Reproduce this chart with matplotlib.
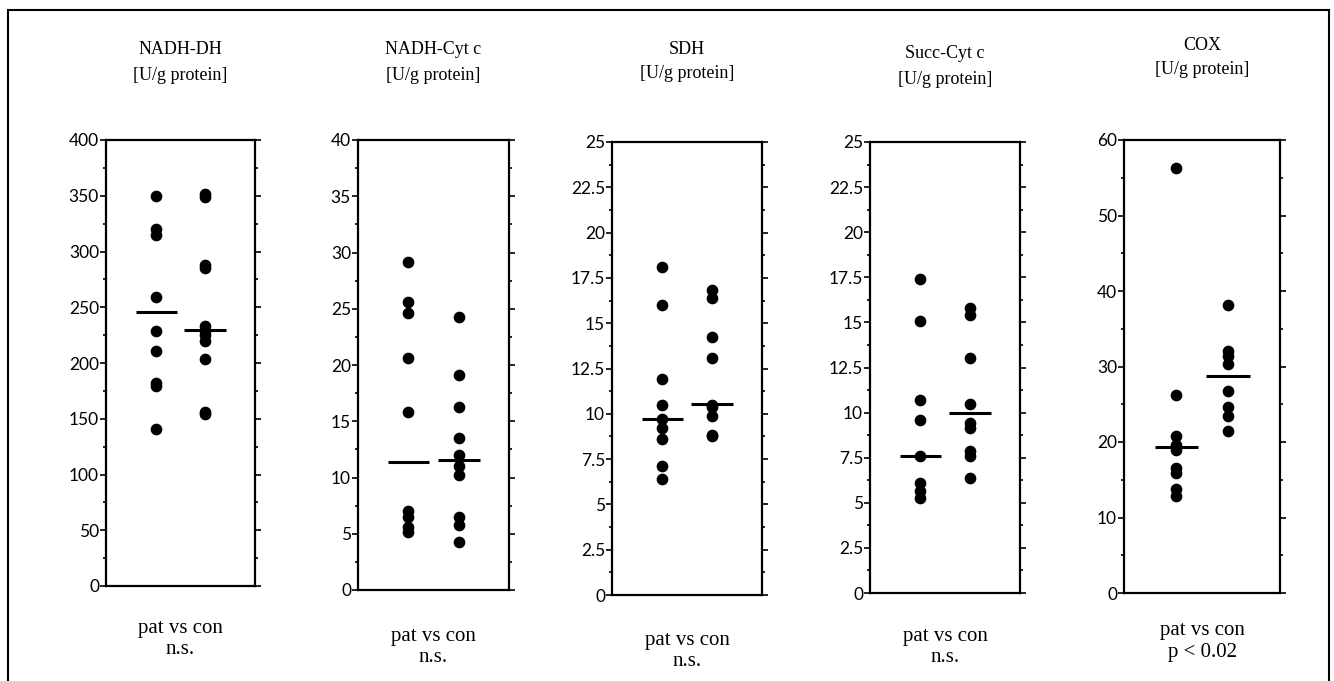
import numpy as np
import matplotlib
matplotlib.use("Agg")
import matplotlib.pyplot as plt
from matplotlib.ticker import MultipleLocator, FuncFormatter
from matplotlib.patches import Rectangle

W, H = 1334, 681

titles = ["NADH-DH", "NADH-Cyt c", "SDH", "Succ-Cyt c", "COX"]
units = ["[U/g protein]"] * 5
stats = ["n.s.", "n.s.", "n.s.", "n.s.", "p < 0.02"]
comparison = "pat vs con"

ymax = [400, 40, 25, 25, 60]
ystep = [50, 5, 2.5, 2.5, 10]

pat_nadh_dh = [350, 320, 315, 259, 229, 211, 182, 179, 141]
con_nadh_dh = [352, 349, 288, 285, 233, 229, 225, 220, 204, 156, 154]
pat_nadh_cyt = [29.2, 25.6, 24.6, 20.6, 15.8, 7.0, 6.5, 5.6, 5.2]
con_nadh_cyt = [24.3, 19.1, 16.3, 13.5, 12.0, 11.0, 10.2, 6.5, 5.8, 4.3]
pat_sdh = [18.1, 16.0, 11.9, 10.5, 9.7, 9.2, 8.6, 7.1, 6.4]
con_sdh = [16.85, 16.4, 14.25, 13.1, 10.5, 10.35, 9.9, 8.85, 8.75]
pat_succ = [17.4, 15.1, 10.7, 9.6, 7.6, 6.1, 5.65, 5.25]
con_succ = [15.8, 15.4, 13.0, 10.5, 9.45, 9.15, 7.85, 7.6, 6.4]
pat_cox = [56.3, 26.2, 20.85, 19.55, 18.9, 16.6, 15.9, 13.8, 12.9]
con_cox = [38.2, 32.1, 31.4, 30.35, 26.8, 24.6, 23.5, 21.5]

pat_median = [245.5, 11.4, 9.7, 7.6, 19.3]
con_median = [229.3, 11.55, 10.55, 10.0, 28.8]

patients = [pat_nadh_dh, pat_nadh_cyt, pat_sdh, pat_succ, pat_cox]
controls = [con_nadh_dh, con_nadh_cyt, con_sdh, con_succ, con_cox]

# axes boxes in pixels: left, right, top, bottom
boxes = [(106, 255, 140, 586), (358, 509, 140, 590), (612, 762, 142, 595),
         (870, 1020, 142, 593), (1124, 1280, 140, 593)]
title_y = [(50, 75), (49, 75), (49, 74), (54, 80), (45, 70)]
bottom_y = [(628, 650), (637, 658), (641, 662), (636, 657), (630, 652)]

serif = "Liberation Serif"
sans = "Lato"

fig = plt.figure(figsize=(W / 100, H / 100), dpi=100)
fig.patch.set_facecolor("white")

# outer frame
frame = Rectangle((8 / W, -0.05), (1329 - 8) / W, 1 - 10 / H + 0.05,
                  transform=fig.transFigure, fill=False, lw=1.5,
                  edgecolor="black")
fig.patches.append(frame)

def fmt(v, pos):
    return ("%g" % v)

for i in range(5):
    l, r, t, b = boxes[i]
    ax = fig.add_axes([l / W, 1 - b / H, (r - l) / W, (b - t) / H])
    ax.set_xlim(0, 3)
    ax.set_ylim(0, ymax[i])
    ax.plot([1] * len(patients[i]), patients[i], "o", color="black", ms=7.4,
            mec="black", clip_on=False)
    ax.plot([2] * len(controls[i]), controls[i], "o", color="black", ms=7.4,
            mec="black", clip_on=False)
    ax.plot([0.6, 1.42], [pat_median[i]] * 2, color="black", lw=2.2,
            solid_capstyle="butt")
    ax.plot([1.58, 2.42], [con_median[i]] * 2, color="black", lw=2.2,
            solid_capstyle="butt")
    for s in ax.spines.values():
        s.set_linewidth(1.6)
    ax.set_xticks([])
    ax.yaxis.set_major_locator(MultipleLocator(ystep[i]))
    ax.yaxis.set_minor_locator(MultipleLocator(ystep[i] / 2))
    ax.yaxis.set_major_formatter(FuncFormatter(fmt))
    ax.tick_params(axis="y", which="major", direction="out", length=4,
                   width=1.2, left=True, right=True, labelsize=12.5, pad=1)
    ax.tick_params(axis="y", which="minor", direction="out", length=2,
                   width=1.2, left=True, right=True)
    for lab in ax.get_yticklabels():
        lab.set_fontfamily(sans)
    cx = (l + r) / 2 / W
    fig.text(cx, 1 - title_y[i][0] / H, titles[i], ha="center", va="center",
             fontsize=13, family=serif)
    fig.text(cx, 1 - title_y[i][1] / H, units[i], ha="center", va="center",
             fontsize=13, family=serif)
    fig.text(cx, 1 - bottom_y[i][0] / H, comparison, ha="center",
             va="center", fontsize=15, family=serif)
    fig.text(cx, 1 - bottom_y[i][1] / H, stats[i], ha="center", va="center",
             fontsize=15, family=serif)

fig.savefig("out.png", dpi=100, facecolor="white")
